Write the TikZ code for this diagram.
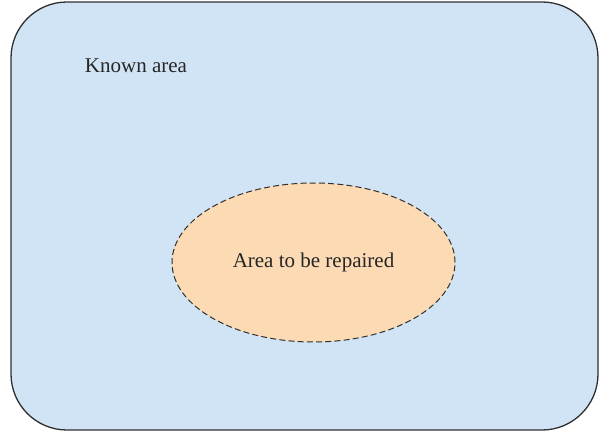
\documentclass[tikz,border=0pt]{standalone}
\usepackage{fontspec}
\setmainfont{Liberation Serif}
\usetikzlibrary{shapes.geometric}
\definecolor{knownblue}{HTML}{D0E4F5}
\definecolor{repairorange}{HTML}{FCDAB4}
\definecolor{edgegray}{HTML}{303030}
\begin{document}
\begin{tikzpicture}[x=0.5pt,y=-0.5pt,
    region/.style={draw=edgegray,inner sep=0pt},
    lbl/.style={font=\fontsize{10.5}{12}\selectfont,text=black!85}]
        \useasboundingbox (0,0) rectangle (608,432);
        \node[region,rounded corners=28pt,line width=0.65pt,fill=knownblue,
              minimum width=293.5pt,minimum height=214pt] (known) at (304.5,216) {};
        \node[region,ellipse,dashed,dash pattern=on 3pt off 1.6pt,line width=0.5pt,
              fill=repairorange,minimum width=141.5pt,minimum height=79.5pt,lbl]
              (repair) at (313.5,262.5) {Area to be repaired};
        \node[lbl] (knownlbl) at (136,66) {Known area};
    \end{tikzpicture}
\end{document}
